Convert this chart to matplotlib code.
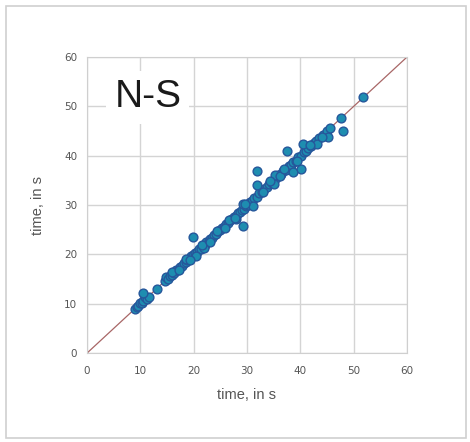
import matplotlib
matplotlib.use('Agg')
import matplotlib.pyplot as plt
from matplotlib.patches import Rectangle

# run times (s)
x_time = [9.0, 9.3, 9.6, 10.0, 10.3, 10.5, 10.8, 11.2, 11.6, 13.1,
          14.6, 14.9, 15.2, 15.5, 15.9, 16.3, 16.7, 17.0, 17.4, 17.8,
          18.1, 18.5, 18.8, 19.2, 19.5, 19.9, 20.2, 20.6, 21.0, 21.3,
          21.7, 22.1, 22.4, 22.8, 23.1, 23.5, 23.9, 24.2, 24.6, 25.0,
          25.3, 25.7, 26.1, 26.4, 26.8, 27.2, 27.5, 27.9, 28.3, 28.6,
          29.0, 29.4, 29.8, 30.1, 30.5, 30.9, 31.4, 31.8, 32.3, 32.8,
          33.2, 33.7, 34.1, 34.6, 35.0, 35.5, 35.9, 36.4, 36.8, 37.3,
          37.8, 38.2, 38.7, 39.1, 39.6, 40.1, 40.6, 41.0, 41.5, 42.0,
          42.5, 43.0, 43.5, 44.3, 45.0, 45.6, 47.6, 51.7,
          10.5, 19.9, 29.3, 31.9, 31.9, 31.1, 35.1, 37.5, 38.7, 40.1,
          40.5, 45.2, 48.0, 20.4, 22.0, 28.0, 29.2, 29.7, 35.2, 43.2,
          16.0, 17.2, 18.6, 19.4, 21.5, 23.0, 24.4, 25.8, 26.6, 27.7,
          33.0, 34.3, 36.2, 37.0, 39.3, 41.8, 44.0]
y_time = [9.0, 9.4, 9.5, 10.2, 10.1, 10.6, 11.4, 11.0, 11.3, 13.0,
          14.7, 15.4, 15.0, 15.6, 15.8, 16.2, 16.8, 16.9, 17.5, 17.7,
          18.2, 18.4, 18.9, 19.1, 19.6, 19.8, 20.3, 20.5, 21.1, 21.2,
          21.8, 22.0, 22.5, 22.7, 23.2, 23.4, 24.0, 24.1, 24.7, 24.9,
          25.4, 25.6, 26.2, 26.3, 26.9, 27.1, 27.6, 27.8, 28.4, 28.5,
          29.1, 29.3, 29.9, 30.0, 30.6, 30.8, 31.5, 31.7, 32.4, 32.7,
          33.3, 33.6, 34.2, 34.5, 35.1, 35.4, 36.0, 36.3, 36.9, 37.2,
          37.9, 38.1, 38.8, 39.0, 39.7, 40.0, 40.7, 40.9, 41.6, 41.9,
          42.6, 42.9, 43.6, 44.2, 45.1, 45.7, 47.7, 51.8,
          12.1, 23.5, 25.7, 36.9, 34.0, 29.8, 34.3, 41.0, 36.7, 37.4,
          42.3, 43.8, 45.0, 19.6, 21.3, 27.2, 30.2, 30.3, 36.0, 42.4,
          16.5, 16.8, 19.0, 18.9, 22.0, 22.6, 24.8, 25.4, 27.0, 27.3,
          32.6, 34.8, 35.8, 37.4, 38.9, 42.2, 43.7]

ticks = [0, 10, 20, 30, 40, 50, 60]

fig = plt.figure(figsize=(4.70, 4.42), dpi=100)
ax = fig.add_axes([0.185, 0.201, 0.681, 0.670])

ax.plot([0, 60], [0, 60], color='#a86666', linewidth=0.9, zorder=2)
ax.scatter(x_time, y_time, s=40, color='#1e8db0', edgecolors='#26579b',
           linewidths=1.0, zorder=3)

ax.set_xlim(0, 60)
ax.set_ylim(0, 60)
ax.set_xticks(ticks)
ax.set_yticks(ticks)
ax.grid(True, color='#d4d4d4', linewidth=1.0, zorder=0)
ax.set_axisbelow(True)
ax.tick_params(length=0, labelsize=7.5, labelcolor='#555555')
ax.tick_params(axis='x', pad=9)
ax.tick_params(axis='y', pad=7)
for sp in ax.spines.values():
    sp.set_color('#cfcfcf')

ax.set_xlabel('time, in s', fontsize=10.5, color='#555555',
              family='Liberation Sans', labelpad=9)
ax.set_ylabel('time, in s', fontsize=10.5, color='#555555',
              family='Liberation Sans', labelpad=14)

ax.text(11.4, 51.8, 'N-S', fontsize=28, family='Liberation Sans',
        color='#1a1a1a', ha='center', va='center', zorder=5,
        bbox=dict(facecolor='white', edgecolor='none', pad=6))

# light frame round the whole picture
fig.add_artist(Rectangle((0.013, 0.009), 0.978, 0.978, transform=fig.transFigure,
                         fill=False, edgecolor='#d0d0d0', linewidth=1.2))

fig.savefig('out.png', dpi=100)
